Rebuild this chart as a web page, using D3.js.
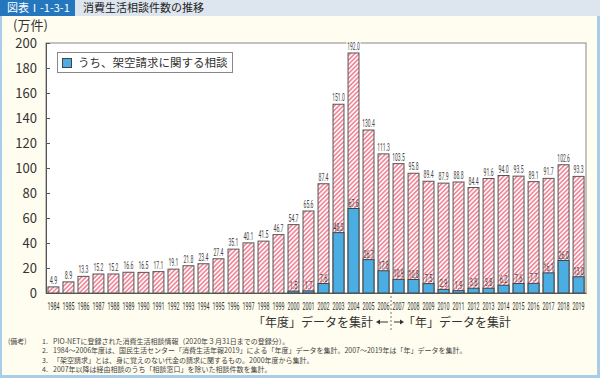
<!DOCTYPE html>
<html><head><meta charset="utf-8">
<script src="https://cdn.jsdelivr.net/npm/d3@7"></script>
<style>
html,body{margin:0;padding:0;background:#fff;}
svg{display:block;}
text{font-family:"Noto Sans CJK JP","Noto Sans",sans-serif;}
.num{font-family:"Roboto","Noto Sans",sans-serif;}
</style></head>
<body>
<svg id="c" width="600" height="378"></svg>
<script>
const years = d3.range(1984, 2020).map(String);
const totals = [4.9,8.9,13.3,15.2,15.2,16.6,16.5,17.1,19.1,21.8,23.4,27.4,35.1,40.1,41.5,46.7,54.7,65.6,87.4,151.0,192.0,130.4,111.3,103.5,95.8,89.4,87.9,88.8,84.4,91.6,94.0,93.5,89.1,91.7,102.6,93.3];
const fraudYears = ["2000","2001","2002","2003","2004","2005","2006","2007","2008","2009","2010","2011","2012","2013","2014","2015","2016","2017","2018","2019"];
const fraud = [1.5,1.7,7.6,48.3,67.6,26.7,17.8,10.9,10.8,7.5,2.9,1.9,3.8,3.8,6.2,7.6,7.7,16.1,26.0,13.0];
const yTicks = [0,20,40,60,80,100,120,140,160,180,200];
const titleLabel = "図表Ⅰ-1-3-1";
const titleText = "消費生活相談件数の推移";
const unitLabel = "(万件)";
const legendLabel = "うち、架空請求に関する相談";
const notes = [
  ["(備考)", "1.", "PIO-NETに登録された消費生活相談情報（2020年３月31日までの登録分）。"],
  ["", "2.", "1984～2006年度は、国民生活センター「消費生活年報2019」による「年度」データを集計。2007～2019年は「年」データを集計。"],
  ["", "3.", "「架空請求」とは、身に覚えのない代金の請求に関するもの。2000年度から集計。"],
  ["", "4.", "2007年以降は経由相談のうち「相談窓口」を除いた相談件数を集計。"]
];

const svg = d3.select("#c");
// panel
svg.append("rect").attr("x",0).attr("y",0).attr("width",600).attr("height",378).attr("fill","#a9cde9");
svg.append("rect").attr("x",2).attr("y",15).attr("width",595).attr("height",360).attr("fill","#fffdef");
svg.append("rect").attr("x",0).attr("y",0).attr("width",600).attr("height",16).attr("fill","#dde5ee");
svg.append("rect").attr("x",0).attr("y",0).attr("width",75).attr("height",16).attr("fill","#2477bd");
svg.append("text").attr("x",7).attr("y",12).attr("fill","#fff").attr("font-size",11).text(titleLabel);
svg.append("text").attr("x",83).attr("y",12).attr("fill","#222").attr("font-size",11).text(titleText);

const defs = svg.append("defs");
const pat = defs.append("pattern").attr("id","hatch").attr("patternUnits","userSpaceOnUse")
  .attr("width",3.2).attr("height",3.2).attr("patternTransform","rotate(45)");
pat.append("rect").attr("width",3.2).attr("height",3.2).attr("fill","#fff");
pat.append("rect").attr("width",1.7).attr("height",3.2).attr("fill","#f2899a");

const L=46, R=586, T=43, B=293;
const x = d3.scaleBand().domain(years).range([L,R]).paddingInner(0.27).paddingOuter(0.13);
const y = d3.scaleLinear().domain([0,200]).range([B,T]);

svg.append("rect").attr("x",L).attr("y",T).attr("width",R-L).attr("height",B-T).attr("fill","#fff").attr("stroke","#888").attr("stroke-width",1);

// y axis
const yAxis = d3.axisLeft(y).tickValues(yTicks).tickSize(-4).tickPadding(9).tickFormat(d3.format("d"));
const ga = svg.append("g").attr("transform",`translate(${L},0)`).call(yAxis);
ga.select(".domain").attr("stroke","#555");
ga.selectAll(".tick line").attr("stroke","#555");
ga.selectAll("text").attr("font-size",13).attr("fill","#333").attr("font-family","'Noto Sans',sans-serif");
svg.append("text").attr("x",13).attr("y",30).attr("font-size",13).attr("fill","#333").text(unitLabel);

// bars
const data = years.map((yr,i)=>({yr, v:totals[i]}));
svg.append("g").selectAll("rect").data(data).join("rect")
  .attr("x",d=>x(d.yr)).attr("width",x.bandwidth())
  .attr("y",d=>y(d.v)).attr("height",d=>B-y(d.v))
  .attr("fill","url(#hatch)").attr("stroke","#555").attr("stroke-width",1);
const fdata = fraudYears.map((yr,i)=>({yr, v:fraud[i]}));
svg.append("g").selectAll("rect").data(fdata).join("rect")
  .attr("x",d=>x(d.yr)).attr("width",x.bandwidth())
  .attr("y",d=>y(d.v)).attr("height",d=>B-y(d.v))
  .attr("fill","#4baee2").attr("stroke","#444").attr("stroke-width",1);

// condensed text helper: scale horizontally to a target width
function condensed(sel, targetW){
  sel.each(function(d){
    const t = d3.select(this);
    const w = this.getComputedTextLength();
    const tw = typeof targetW === "function" ? targetW(d) : targetW;
    const s = w>0 ? Math.min(1, tw/w) : 1;
    const cx = +t.attr("data-x"), cy = +t.attr("data-y");
    t.attr("x",0).attr("y",0).attr("transform",`translate(${cx},${cy}) scale(${s},1)`);
  });
}
const lw = d => d.v.toFixed(1).length*2.5;
const cxOf = d => x(d.yr)+x.bandwidth()/2;

// total labels
const tl = svg.append("g");
tl.selectAll("rect").data(data.filter(d=>d.v>150)).join("rect")
  .attr("x",d=>cxOf(d)-7).attr("y",d=>y(d.v)-12).attr("width",14).attr("height",9).attr("fill","#fff");
tl.selectAll("text").data(data).join("text").attr("class","num")
  .attr("data-x",cxOf).attr("data-y",d=>y(d.v)-3)
  .attr("text-anchor","middle").attr("font-size",10).attr("fill","#444")
  .text(d=>d.v.toFixed(1)).call(condensed, lw);
// fraud labels
svg.append("g").selectAll("text").data(fdata).join("text").attr("class","num")
  .attr("data-x",cxOf).attr("data-y",d=>y(d.v)-2)
  .attr("text-anchor","middle").attr("font-size",10).attr("fill","#444")
  .text(d=>d.v.toFixed(1)).call(condensed, lw);

// x axis
const xAxis = d3.axisBottom(x).tickSize(0).tickPadding(6);
const gx = svg.append("g").attr("transform",`translate(0,${B})`).call(xAxis);
gx.select(".domain").attr("stroke","#555");
gx.selectAll(".tick text").attr("class","num").attr("font-size",11).attr("fill","#333")
  .each(function(){ const t=d3.select(this); t.attr("data-x",0).attr("data-y",17); t.attr("dy",null); })
  .call(condensed, 12);

// legend
svg.append("rect").attr("x",57.5).attr("y",52.5).attr("width",175).attr("height",20).attr("fill","#fff").attr("stroke","#888");
svg.append("rect").attr("x",62.5).attr("y",58.5).attr("width",9).attr("height",9).attr("fill","#4baee2").attr("stroke","#444");
svg.append("text").attr("x",78).attr("y",67).attr("font-size",11.5).attr("fill","#333").text(legendLabel);

// divider
const mid = (x("2006")+x.bandwidth() + x("2007"))/2;
svg.append("line").attr("x1",mid).attr("x2",mid).attr("y1",B+3).attr("y2",330)
  .attr("stroke","#777").attr("stroke-dasharray","2,2");
svg.append("text").attr("x",mid-18).attr("y",327).attr("text-anchor","end").attr("font-size",12).attr("fill","#333").text("「年度」データを集計");
svg.append("text").attr("x",mid+12).attr("y",327).attr("font-size",12).attr("fill","#333").text("「年」データを集計");
[[mid-3,mid-15],[mid+3,mid+13]].forEach(([a,b])=>{
  const dir = b>a?1:-1;
  svg.append("line").attr("x1",a).attr("x2",b-dir*3).attr("y1",322).attr("y2",322).attr("stroke","#333").attr("stroke-width",1);
  svg.append("path").attr("d",`M${b},322 L${b-dir*4},319.5 L${b-dir*4},324.5 Z`).attr("fill","#333");
});

// notes
const ng = svg.append("g").attr("font-size",7).attr("fill","#444");
notes.forEach((n,i)=>{
  const yy = 344 + i*9.3;
  if(n[0]) ng.append("text").attr("x",8).attr("y",yy).text(n[0]);
  ng.append("text").attr("x",42).attr("y",yy).text(n[1]);
  ng.append("text").attr("x",53).attr("y",yy).text(n[2]);
});
</script>
</body></html>
